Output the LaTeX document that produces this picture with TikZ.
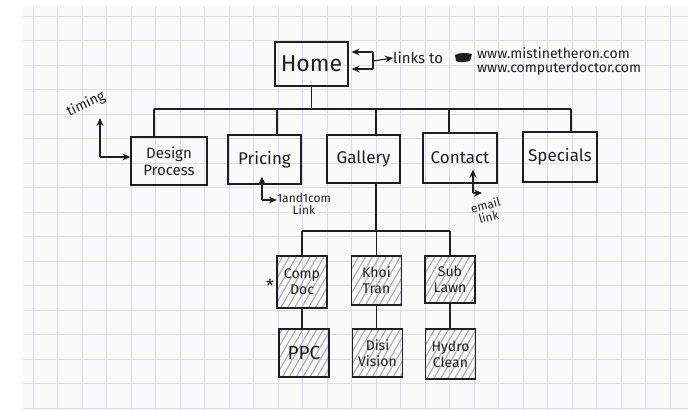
\documentclass[tikz,border=0pt]{standalone}
\usepackage{fontspec}
\setmainfont{Fira Sans}
\usetikzlibrary{arrows.meta,patterns.meta}
\definecolor{paper}{RGB}{250,250,251}
\definecolor{gridline}{RGB}{222,220,236}
\definecolor{hatch}{RGB}{170,170,170}
\definecolor{ink}{RGB}{30,30,30}

\tikzset{
  page/.style={draw=ink, line width=1.3pt, align=center, inner sep=1pt,
    text=ink, font=\fontsize{17}{19}\selectfont},
  subpage/.style={page, minimum width=50pt, minimum height=49pt,
    font=\fontsize{14}{16}\selectfont,
    pattern={Lines[angle=60,distance=6pt,line width=1.1pt]}, pattern color=hatch},
  note/.style={align=center, inner sep=0pt, text=ink, font=\fontsize{12}{12}\selectfont},
  tree/.style={draw=ink, line width=1.2pt},
  xref/.style={draw=ink, line width=1.1pt, arrows={-Stealth[length=8pt,width=7pt]}},
}

\begin{document}
\begin{tikzpicture}[x=1pt, y=-1pt]
% Graph paper
\useasboundingbox (0,0) rectangle (688,410);
\fill[white] (0,0) rectangle (688,410);
\fill[paper] (23,6) rectangle (688,410);
\foreach \x in {0,...,26}
  \draw[gridline, line width=0.7pt] (33+24.5*\x,6) -- (33+24.5*\x,410);
\foreach \y in {0,...,16}
  \draw[gridline, line width=0.7pt] (23,16+24.5*\y) -- (688,16+24.5*\y);

% Home
\node[page, minimum width=73pt, minimum height=44pt, font=\fontsize{23}{25}\selectfont] (home) at (311.5,64) {Home};

% Main pages
\node[page, minimum width=76pt, minimum height=48pt, font=\fontsize{15}{17}\selectfont] (design) at (169,161) {Design\\Process};
\node[page, minimum width=73pt, minimum height=49pt] (pricing) at (264.5,159.5) {Pricing};
\node[page, minimum width=73pt, minimum height=48pt] (gallery) at (363.5,159) {Gallery};
\node[page, minimum width=74pt, minimum height=50pt] (contact) at (460,158) {Contact};
\node[page, minimum width=74pt, minimum height=50pt] (specials) at (560,157) {Specials};

% Gallery pages
\node[subpage, minimum height=52pt] (compdoc) at (302,282) {Comp\\Doc};
\node[subpage] (khoi) at (376.5,280.5) {Khoi\\Tran};
\node[subpage, minimum height=47pt] (sublawn) at (450,279.5) {Sub\\Lawn};
\node[subpage, minimum height=48pt, font=\fontsize{19}{21}\selectfont] (ppc) at (304,353) {PPC};
\node[subpage, minimum height=48pt] (disi) at (377.5,353) {Disi\\Vision};
\node[subpage, minimum height=50pt] (hydro) at (450.5,354) {Hydro\\Clean};
\node[text=ink, font=\fontsize{18}{18}\selectfont] (star) at (270,286) {*};

% Tree lines
\coordinate (bar1) at (0,109);
\coordinate (bar2) at (0,231);
\coordinate (design top) at ([xshift=-15pt]design.north);
\coordinate (pricing top) at ([xshift=12.5pt]pricing.north);
\coordinate (gallery top) at ([xshift=12.5pt]gallery.north);
\coordinate (contact top) at ([xshift=-11pt]contact.north);
\coordinate (specials top) at ([xshift=11pt]specials.north);
\draw[tree] (home) -- (home |- bar1);
\draw[tree] (design top |- bar1) -- (specials top |- bar1);
\foreach \n in {design,pricing,gallery,contact,specials}
  \draw[tree] (\n\space top) -- (\n\space top |- bar1);
\coordinate (gallery foot) at ([xshift=12.5pt]gallery.south);
\draw[tree] (gallery foot) -- (gallery foot |- bar2);
\draw[tree] (compdoc |- bar2) -- (sublawn |- bar2);
\foreach \n in {compdoc,khoi,sublawn}
  \draw[tree] (\n |- bar2) -- (\n.north);
\draw[tree] (compdoc.south) -- (compdoc.south |- ppc.north);
\draw[tree] (khoi.south) -- (khoi.south |- disi.north);
\draw[tree] (sublawn.south) -- (sublawn.south |- hydro.north);

% Outside links
\coordinate (h1) at ([xshift=3pt,yshift=12pt]home.east);
\coordinate (h2) at ([xshift=3pt,yshift=-5pt]home.east);
\coordinate (fork) at (373,61);
\coordinate (f1) at (h1 -| fork);
\coordinate (f2) at (h2 -| fork);
\node[note, anchor=west, font=\fontsize{15}{15}\selectfont] (links) at (393,58) {links to};
\draw[tree, line width=1.1pt] (f1) -- (f2);
\draw[xref] (f1) -- (h1);
\draw[xref] (f2) -- (h2);
\draw[xref] (fork) -- (links.west);
\fill[ink] (455,55) .. controls (460,52) and (467,53) .. (472,54) -- (470,61) .. controls (465,62) and (459,63) .. (456,61) -- cycle;
\node[note, anchor=west, align=left, font=\fontsize{14}{14}\selectfont] (urls) at (477,62) {www.mistinetheron.com\\www.computerdoctor.com};

% Notes
\node[note, rotate=25, font=\fontsize{14}{14}\selectfont] (timing) at (86,104) {timing};
\coordinate (timing tip) at (100,118);
\coordinate (design in) at ([yshift=4pt]design.west);
\coordinate (timing bend) at (timing tip |- design in);
\draw[xref] (timing bend) -- (timing tip);
\draw[xref] (timing bend) -- (design in);

\coordinate (pricing tip) at ([xshift=-2.5pt,yshift=8pt]pricing.south);
\node[note] (hosting) at (304,204) {1and1com\\Link};
\coordinate (hosting in) at ([yshift=4pt]hosting.west);
\coordinate (pricing bend) at (pricing tip |- hosting in);
\draw[xref] (pricing bend) -- (pricing tip);
\draw[xref] (pricing bend) -- (hosting in);

\coordinate (contact tip) at ([xshift=13pt,yshift=14pt]contact.south);
\coordinate (mail tip) at (482,193);
\coordinate (contact bend) at (contact tip |- mail tip);
\node[note, rotate=15] (email) at (487,211) {email\\link};
\draw[xref] (contact bend) -- (contact tip);
\draw[xref] (contact bend) -- (mail tip);
\end{tikzpicture}
\end{document}
